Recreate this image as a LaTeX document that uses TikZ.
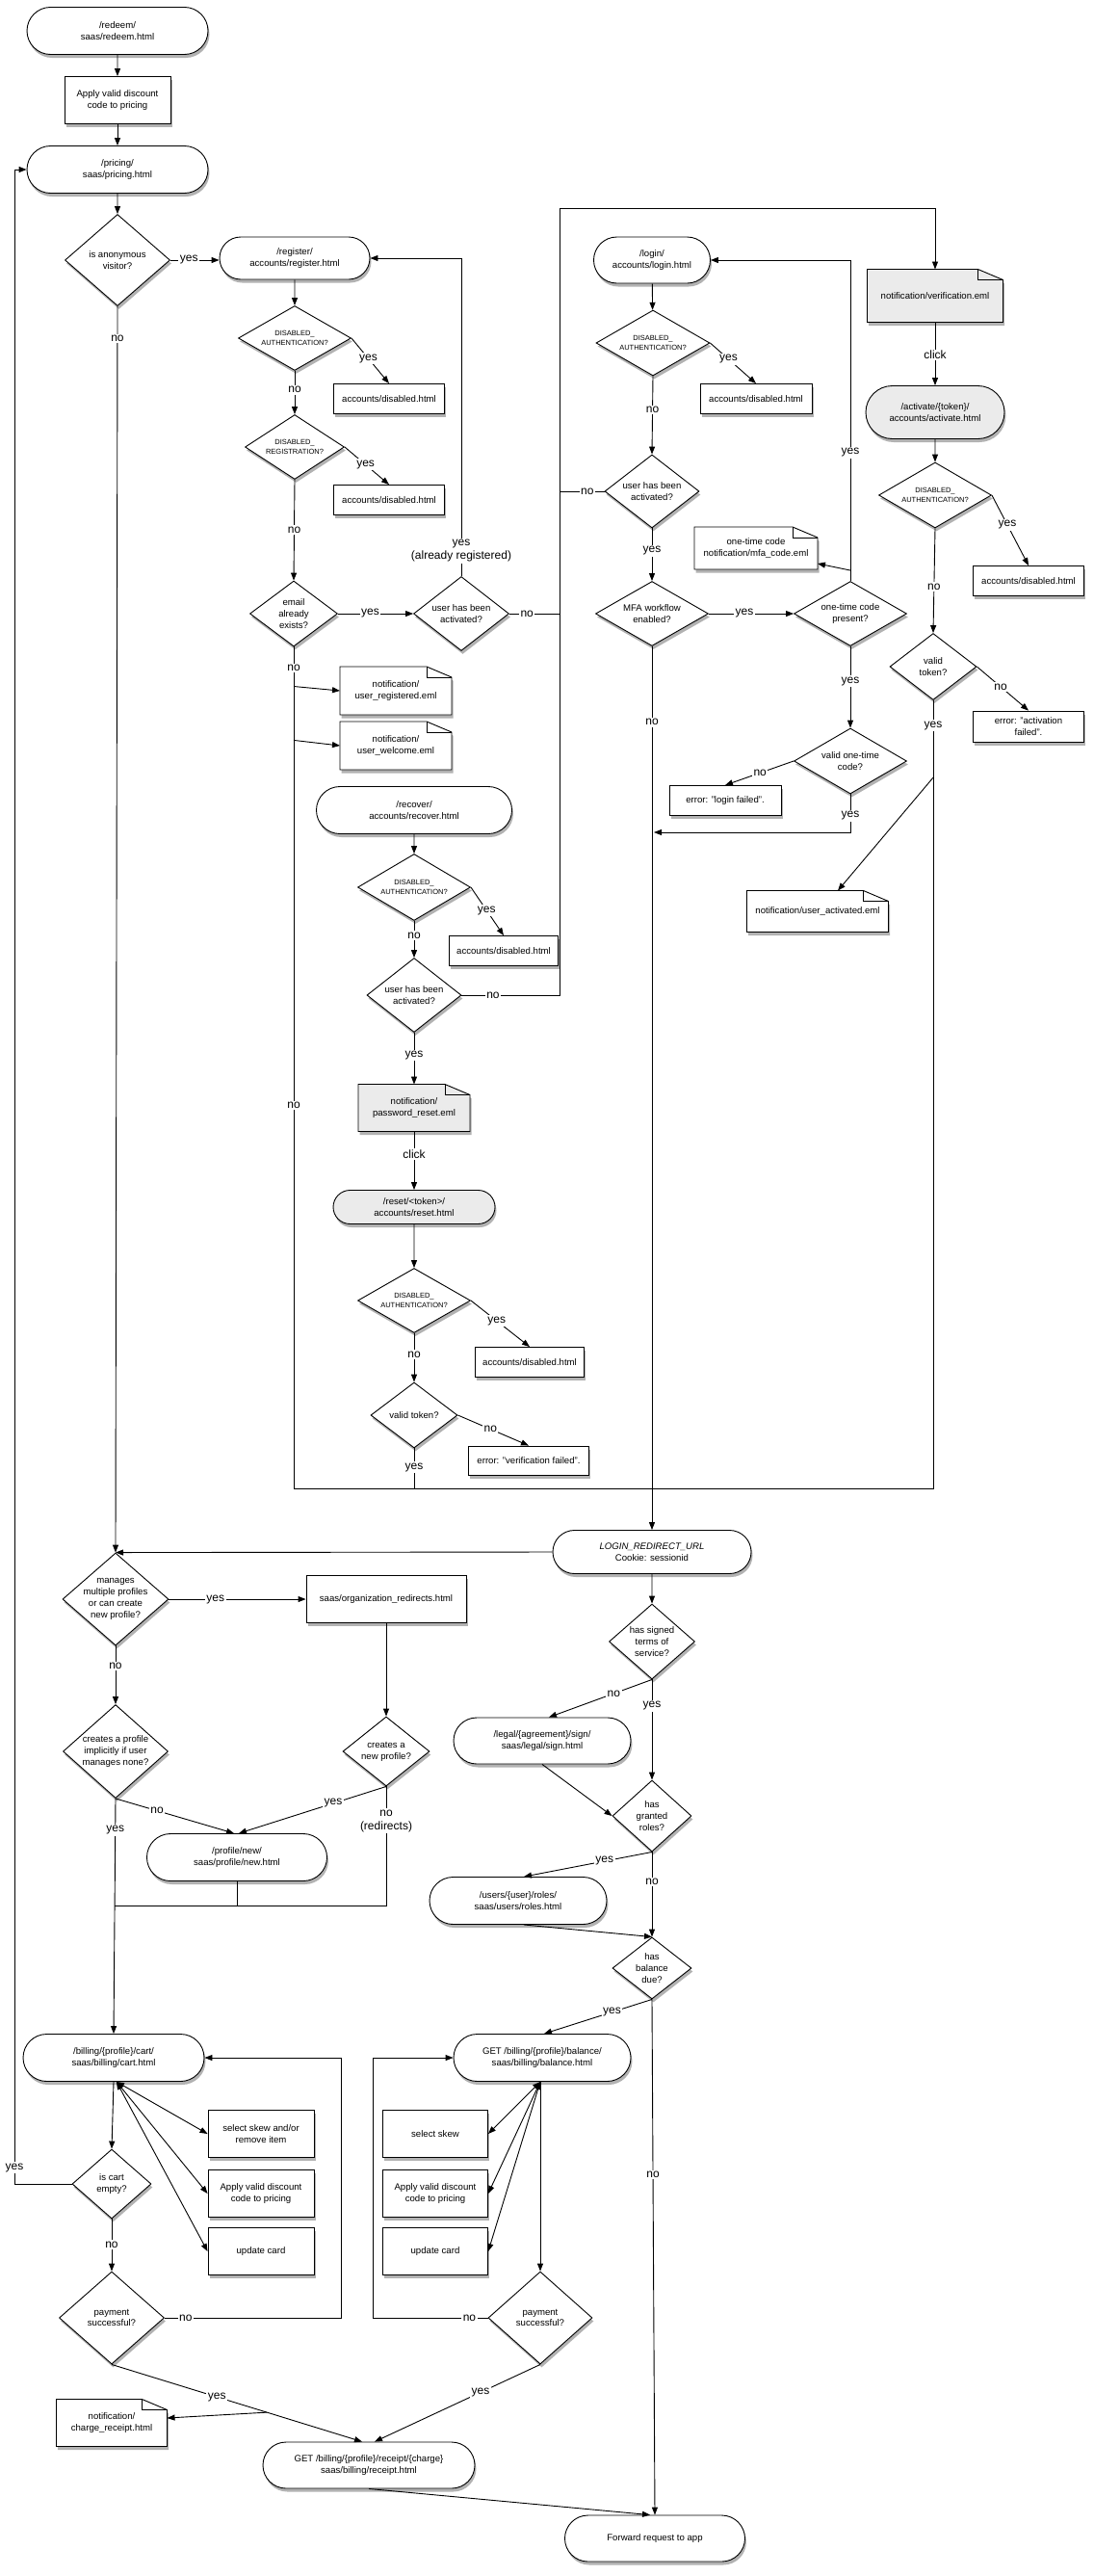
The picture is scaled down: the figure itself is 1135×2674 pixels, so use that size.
\documentclass[tikz,border=0pt]{standalone}
\usepackage{fontspec}
\setmainfont{Liberation Sans}
\usetikzlibrary{shapes.geometric,shapes.misc,shadows,arrows.meta}
\newcommand\ftnode{\fontsize{9.6}{11.8}\selectfont}
\newcommand\ftsmall{\fontsize{7.5}{9.3}\selectfont}
\newcommand\ftlbl{\fontsize{12}{14}\selectfont}
\definecolor{gfill}{HTML}{EBEBEB}
\tikzset{
  ln/.style={line width=0.9pt, draw=black},
  shad/.style={drop shadow={shadow xshift=1.5pt, shadow yshift=-3.5pt, opacity=0.3, fill=black}},
  term/.style={ln, rounded rectangle, fill=white, shad, align=center, font=\ftnode, inner sep=1pt},
  termg/.style={term, fill=gfill},
  proc/.style={ln, rectangle, fill=white, shad, align=center, font=\ftnode, inner sep=1pt},
  dia/.style={ln, diamond, fill=white, shad, inner sep=0pt},
  dtext/.style={align=center, inner sep=0pt},
  notetext/.style={align=center, font=\ftnode, inner sep=0pt, outer sep=0pt},
  lbl/.style={fill=white, font=\ftlbl, inner sep=1.5pt, align=center},
  arr/.style={ln, -{Triangle[length=8pt,width=6pt]}},
  barr/.style={ln, {Triangle[length=8pt,width=6pt]}-{Triangle[length=8pt,width=6pt]}},
}
% diamond: [font]{name}{x}{y}{w}{h}{text}
\newcommand\dnode[7][\ftnode]{%
  \node[dia, minimum width=#5pt, minimum height=#6pt] (#2) at (#3,#4) {};
  \node[dtext, font=#1] (#2t) at (#2.center) {#7};
}
% note: [fill]{name}{x}{y}{w}{h}{text}
\newcommand\notebox[7][white]{%
  \filldraw[ln, fill=#1, shad] ({#3-#5/2},{#4-#6/2}) -- ({#3+#5/2-26},{#4-#6/2}) -- ({#3+#5/2},{#4-#6/2+11}) -- ({#3+#5/2},{#4+#6/2}) -- ({#3-#5/2},{#4+#6/2}) -- cycle;
  \draw[ln] ({#3+#5/2-26},{#4-#6/2}) -- ({#3+#5/2-26},{#4-#6/2+11}) -- ({#3+#5/2},{#4-#6/2+11});
  \node[notetext, minimum width=#5pt, minimum height=#6pt] (#2) at (#3,#4) {#7};
}
\begin{document}
\begin{tikzpicture}[x=1pt,y=-1pt]
\fill[white] (0,0) rectangle (1135,2674);
\useasboundingbox (0,0) rectangle (1135,2674);

% ---------------- top-left
\node[term, minimum width=190pt, minimum height=49pt] (redeem) at (122,32) {/redeem/\\saas/redeem.html};
\node[proc, minimum width=110pt, minimum height=49pt] (apply1) at (122,104) {Apply valid discount\\code to pricing};
\node[term, minimum width=190pt, minimum height=49pt] (pricing) at (122,176) {/pricing/\\saas/pricing.html};
\dnode{anon}{122}{270}{109}{95}{is anonymous\\visitor?}

% ---------------- register
\node[term, minimum width=158pt, minimum height=44pt] (reg) at (306,268) {/register/\\accounts/register.html};
\dnode[\ftsmall]{da1}{306}{351}{117}{67}{DISABLED\_\\AUTHENTICATION?}
\node[proc, minimum width=115pt, minimum height=31pt] (dis1) at (404,414) {accounts/disabled.html};
\dnode[\ftsmall]{dr}{306}{464}{103}{67}{DISABLED\_\\REGISTRATION?}
\node[proc, minimum width=115pt, minimum height=31pt] (dis2) at (404,519) {accounts/disabled.html};
\dnode{email}{305}{637}{91}{68}{email\\already\\exists?}
\dnode{act1}{479}{637}{99}{77}{user has been\\activated?}
\notebox{ur}{411}{717}{116}{50}{notification/\\user\_registered.eml}
\notebox{uw}{411}{774}{116}{50}{notification/\\user\_welcome.eml}

% ---------------- recover
\node[term, minimum width=205pt, minimum height=49pt] (rec) at (430,841) {/recover/\\accounts/recover.html};
\dnode[\ftsmall]{da2}{430}{921}{117}{69}{DISABLED\_\\AUTHENTICATION?}
\node[proc, minimum width=113pt, minimum height=31pt] (dis3) at (523,987) {accounts/disabled.html};
\dnode{act3}{430}{1033}{98}{77}{user has been\\activated?}
\notebox[gfill]{pr}{430}{1150}{116}{49}{notification/\\password\_reset.eml}
\node[termg, minimum width=170pt, minimum height=35pt] (reset) at (430,1253) {/reset/<token>/\\accounts/reset.html};
\dnode[\ftsmall]{da4}{430}{1350}{117}{67}{DISABLED\_\\AUTHENTICATION?}
\node[proc, minimum width=113pt, minimum height=31pt] (dis5) at (550,1414) {accounts/disabled.html};
\dnode{vt3}{430}{1469}{90}{68}{valid token?}
\node[proc, minimum width=125pt, minimum height=30pt] (err1) at (549,1516) {error: "verification failed".};

% ---------------- login
\node[term, minimum width=123pt, minimum height=48pt] (login) at (677,270) {/login/\\accounts/login.html};
\dnode[\ftsmall]{da5}{678}{356}{118}{68}{DISABLED\_\\AUTHENTICATION?}
\node[proc, minimum width=116pt, minimum height=31pt] (dis6) at (785,414) {accounts/disabled.html};
\dnode{act2}{677}{510}{98}{76}{user has been\\activated?}
\dnode{mfa}{677}{637}{117}{67}{MFA workflow\\enabled?}
\dnode{otc}{883}{637}{117}{67}{one-time code\\present?}
\notebox{mfac}{785}{569}{128}{44}{one-time code\\notification/mfa\_code.eml}
\dnode{votc}{883}{790}{117}{68}{valid one-time\\code?}
\node[proc, minimum width=116pt, minimum height=31pt] (err3) at (753,831) {error: "login failed".};

% ---------------- activation
\notebox[gfill]{verif}{971}{307}{141}{55}{notification/verification.eml}
\node[termg, minimum width=146pt, minimum height=55pt] (act) at (971,428) {/activate/\{token\}/\\accounts/activate.html};
\dnode[\ftsmall]{da3}{971}{514}{117}{68}{DISABLED\_\\AUTHENTICATION?}
\node[proc, minimum width=115pt, minimum height=31pt] (dis4) at (1068,603) {accounts/disabled.html};
\dnode{vt2}{969}{692}{90}{69}{valid\\token?}
\node[proc, minimum width=115pt, minimum height=32pt] (err2) at (1068,754) {error: "activation\\failed".};
\notebox{ua}{849}{946}{147}{43}{notification/user\_activated.eml}

% ---------------- lower part
\node[term, minimum width=208pt, minimum height=45pt] (lru) at (677,1611) {\textit{LOGIN\_REDIRECT\_URL}\\Cookie: sessionid};
\dnode{managed}{120}{1660}{110}{96}{manages\\multiple profiles\\or can create\\new profile?}
\node[proc, minimum width=166pt, minimum height=49pt] (org) at (401,1660) {saas/organization\_redirects.html};
\dnode{cnp}{401}{1818}{90}{72}{creates a\\new profile?}
\dnode{implicit}{120}{1818}{109}{97}{creates a profile\\implicitly if user\\manages none?}
\node[term, minimum width=189pt, minimum height=49pt] (pnew) at (246,1928) {/profile/new/\\saas/profile/new.html};
\node[term, minimum width=190pt, minimum height=49pt] (cart) at (118,2136) {/billing/\{profile\}/cart/\\saas/billing/cart.html};
\node[proc, minimum width=110pt, minimum height=49pt] (cs1) at (271,2215) {select skew and/or\\remove item};
\node[proc, minimum width=110pt, minimum height=49pt] (cs2) at (271,2277) {Apply valid discount\\code to pricing};
\node[proc, minimum width=110pt, minimum height=49pt] (cs3) at (271,2337) {update card};
\dnode{cartempty}{116}{2267}{82}{72}{is cart\\empty?}
\dnode{pay1}{116}{2406}{109}{96}{payment\\successful?}
\notebox{cr}{116}{2515}{115}{49}{notification/\\charge\_receipt.html}
\node[term, minimum width=222pt, minimum height=48pt] (receipt) at (383,2559) {GET /billing/\{profile\}/receipt/\{charge\}\\saas/billing/receipt.html};
\node[term, minimum width=189pt, minimum height=48pt] (fwd) at (680,2635) {Forward request to app};

\dnode{tos}{677}{1704}{89}{78}{has signed\\terms of\\service?}
\node[term, minimum width=186pt, minimum height=48pt] (legal) at (563,1807) {/legal/\{agreement\}/sign/\\saas/legal/sign.html};
\dnode{granted}{677}{1885}{82}{74}{has\\granted\\roles?}
\node[term, minimum width=186pt, minimum height=49pt] (roles) at (538,1973) {/users/\{user\}/roles/\\saas/users/roles.html};
\dnode{baldue}{677}{2043}{82}{64}{has\\balance\\due?}
\node[term, minimum width=186pt, minimum height=49pt] (balance) at (563,2136) {GET /billing/\{profile\}/balance/\\saas/billing/balance.html};
\node[proc, minimum width=109pt, minimum height=49pt] (bs1) at (452,2215) {select skew};
\node[proc, minimum width=109pt, minimum height=49pt] (bs2) at (452,2277) {Apply valid discount\\code to pricing};
\node[proc, minimum width=109pt, minimum height=49pt] (bs3) at (452,2337) {update card};
\dnode{pay2}{561}{2406}{108}{96}{payment\\successful?}

% ---------------- coordinates
\coordinate (hl) at (677,1545);
\coordinate (vtop) at (581,216);
\coordinate (mj) at (679,864);
\coordinate (j1) at (119,1978);
\coordinate (loopb) at (15,2267);
\coordinate (loopt) at (15,176);
\coordinate (cnx) at (354,2136);
\coordinate (bnx) at (387,2136);

% ---------------- connectors: top-left
\draw[arr] (redeem) -- (apply1);
\draw[arr] (apply1) -- (pricing);
\draw[arr] (pricing) -- (anon);
\draw[arr] (anon.east) -- node[lbl,pos=.38]{yes} (anon.east -| reg.west);
\draw[arr] (anon.south) -- node[lbl,pos=.026]{no} (managed.north);

% register
\draw[arr] (reg) -- (da1);
\draw[arr] (da1.east) -- node[lbl,pos=.45]{yes} (dis1.north);
\draw[arr] (da1.south) -- node[lbl,pos=.44]{no} (dr.north);
\draw[arr] (dr.east) -- node[lbl,pos=.47]{yes} (dis2.north);
\draw[arr] (dr.south) -- node[lbl,pos=.5]{no} (email.north);
\draw[arr] (email.east) -- node[lbl,pos=.43]{yes} (act1.west);
\draw[arr] (act1.north) -- node[lbl,pos=.08]{yes\\(already registered)} (act1.north |- reg.east) -- (reg.east);
\draw[ln] (email.south) -- node[lbl,pos=.025]{no} node[lbl,pos=.545]{no} coordinate[pos=.047] (e1) coordinate[pos=.111] (e2) (email.south |- hl) -- (hl);
\draw[arr] (e1) -- (ur.west);
\draw[arr] (e2) -- (uw.west);

% not activated -> verification mail
\draw[arr] (act3.east) -- node[lbl,pos=.32]{no} (act3.east -| vtop) -- (vtop) -| (verif.north);
\draw[ln] (act1.east) -- node[lbl,pos=.35]{no} (act1.east -| vtop);
\draw[ln] (act2.west) -- node[lbl,pos=.38]{no} (act2.west -| vtop);

% recover
\draw[arr] (rec) -- (da2);
\draw[arr] (da2.east) -- node[lbl,pos=.48]{yes} (dis3.north);
\draw[arr] (da2.south) -- node[lbl,pos=.4]{no} (act3.north);
\draw[arr] (act3.south) -- node[lbl,pos=.44]{yes} (pr.north);
\draw[arr] (pr.south) -- node[lbl,pos=.39]{click} (reset.north);
\draw[arr] (reset) -- (da4);
\draw[arr] (da4.east) -- node[lbl,pos=.44]{yes} (dis5.north);
\draw[arr] (da4.south) -- node[lbl,pos=.44]{no} (vt3.north);
\draw[arr] (vt3.east) -- node[lbl,pos=.46]{no} (err1.north);
\draw[ln] (vt3.south) -- node[lbl,pos=.48]{yes} (vt3.south |- hl);

% login
\draw[arr] (login) -- (da5);
\draw[arr] (da5.east) -- node[lbl,pos=.4]{yes} (dis6.north);
\draw[arr] (da5.south) -- node[lbl,pos=.43]{no} (act2.north);
\draw[arr] (act2.south) -- node[lbl,pos=.43]{yes} (mfa.north);
\draw[arr] (mfa.east) -- node[lbl,pos=.42]{yes} (otc.west);
\draw[arr] (otc.north) -- node[lbl,pos=.4]{yes} coordinate[pos=.033] (m1) (otc.north |- login.east) -- (login.east);
\draw[arr] (m1) -- ([yshift=-16pt]mfac.east);
\draw[arr] (otc.south) -- node[lbl,pos=.43]{yes} (votc.north);
\draw[arr] (votc.west) -- node[lbl,pos=.49]{no} (err3.north);
\draw[arr] (votc.south) -- node[lbl,pos=.57]{yes} (votc.south |- mj) -- (mj);
\draw[arr] (mfa.south) -- node[lbl,pos=.086]{no} (lru.north);

% activation
\draw[arr] (verif.south) -- node[lbl,pos=.52]{click} (act.north);
\draw[arr] (act) -- (da3);
\draw[arr] (da3.east) -- node[lbl,pos=.42]{yes} (dis4.north);
\draw[arr] (da3.south) -- node[lbl,pos=.56]{no} (vt2.north);
\draw[arr] (vt2.east) -- node[lbl,pos=.46]{no} (err2.north);
\draw[ln] (vt2.south) -- node[lbl,pos=.032]{yes} coordinate[pos=.098] (u1) (vt2.south |- hl) -- (hl);
\draw[arr] (u1) -- ([xshift=21pt]ua.north);

% profiles
\draw[arr] (lru.west) -- (managed.north);
\draw[arr] (lru) -- (tos);
\draw[arr] (managed.east) -- node[lbl,pos=.34]{yes} (org.west);
\draw[arr] (org) -- (cnp);
\draw[arr] (managed.south) -- node[lbl,pos=.35]{no} (implicit.north);
\draw[arr] (implicit.south) -- node[lbl,pos=.35]{no} ([xshift=-3pt]pnew.north);
\draw[arr] (cnp.south) -- node[lbl,pos=.36]{yes} ([xshift=2pt]pnew.north);
\draw[arr] (implicit.south) -- node[lbl,pos=.135]{yes} (cart.north);
\draw[ln] (cnp.south) -- node[lbl,pos=.29]{no\\(redirects)} (cnp.south |- j1) -- (j1);
\draw[ln] (pnew.south) -- (pnew.south |- j1);

% cart
\draw[arr] (cart.south) -- (cartempty.north);
\draw[barr] ([xshift=3pt]cart.south) -- (cs1.west);
\draw[barr] ([xshift=3pt]cart.south) -- (cs2.west);
\draw[barr] ([xshift=3pt]cart.south) -- (cs3.west);
\draw[arr] (cartempty.west) -- (loopb) -- node[lbl,pos=.008]{yes} (loopt) -- (pricing.west);
\draw[arr] (cartempty.south) -- node[lbl,pos=.49]{no} (pay1.north);
\draw[arr] (pay1.east) -- node[lbl,pos=.12]{no} (pay1.east -| cnx) -- (cnx) -- (cart.east);
\draw[arr] (pay1.south) -- node[lbl,pos=.42]{yes} coordinate[pos=.62] (r1) ([xshift=-7pt]receipt.north);
\draw[arr] (r1) -- ([yshift=5pt]cr.east);

% terms, roles, balance
\draw[arr] (tos.south) -- node[lbl,pos=.37]{no} ([xshift=7pt]legal.north);
\draw[arr] (tos.south) -- node[lbl,pos=.26]{yes} (granted.north);
\draw[arr] (legal.south) -- (granted.west);
\draw[arr] (granted.south) -- node[lbl,pos=.37]{yes} ([xshift=6pt]roles.north);
\draw[arr] (granted.south) -- node[lbl,pos=.35]{no} (baldue.north);
\draw[arr] ([xshift=6pt]roles.south) -- (baldue.north);
\draw[arr] (baldue.south) -- node[lbl,pos=.37]{yes} ([xshift=2pt]balance.north);
\draw[arr] (baldue.south) -- node[lbl,pos=.34]{no} (fwd.north);
\draw[arr] ([xshift=-2pt]balance.south) -- (pay2.north);
\draw[barr] ([xshift=-2pt]balance.south) -- (bs1.east);
\draw[barr] ([xshift=-2pt]balance.south) -- (bs2.east);
\draw[barr] ([xshift=-2pt]balance.south) -- (bs3.east);
\draw[arr] (pay2.west) -- node[lbl,pos=.16]{no} (pay2.west -| bnx) -- (bnx) -- (balance.west);
\draw[arr] (pay2.south) -- node[lbl,pos=.36]{yes} ([xshift=6pt]receipt.north);
\draw[arr] (receipt.south) -- ([xshift=-5pt]fwd.north);
\end{tikzpicture}
\end{document}
